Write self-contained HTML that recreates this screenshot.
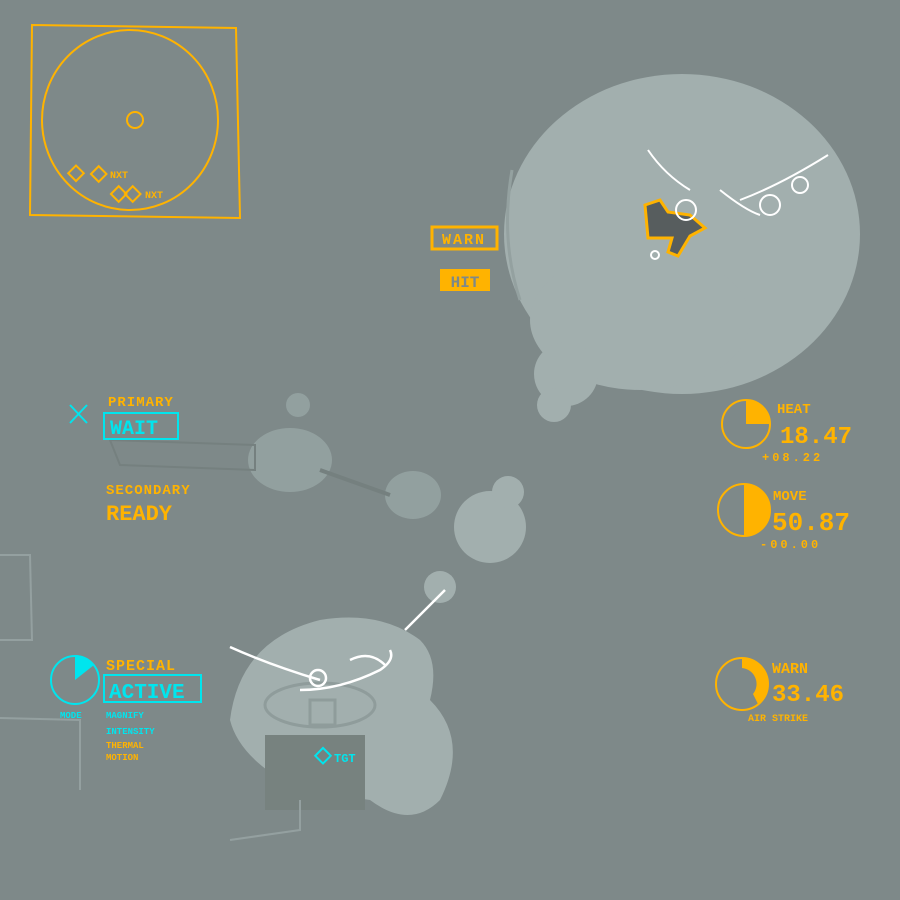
<!DOCTYPE html>
<html><head><meta charset="utf-8"><style>
html,body{margin:0;padding:0;background:#7e8989;}
svg{display:block}
text{font-family:"Liberation Mono",monospace;font-weight:bold}
</style></head><body>
<svg width="900" height="900" viewBox="0 0 900 900" xmlns="http://www.w3.org/2000/svg">
<rect width="900" height="900" fill="#7e8989"/>
<!-- big blob -->
<ellipse cx="682" cy="234" rx="178" ry="160" fill="#a2afae"/>
<ellipse cx="640" cy="320" rx="110" ry="70" fill="#a2afae"/>
<circle cx="566" cy="374" r="32" fill="#a2afae"/>
<circle cx="554" cy="405" r="17" fill="#a2afae"/>
<path d="M512 170 Q500 240 520 300" stroke="#94a1a0" stroke-width="3" fill="none"/>
<!-- creature -->
<g stroke="#ffb300" stroke-width="3" fill="#575d5e">
<path d="M645 205 L660 200 L668 212 L690 215 L705 228 L690 236 L678 256 L668 252 L672 238 L648 238 Z"/>
</g>
<circle cx="686" cy="210" r="10" fill="none" stroke="#fff" stroke-width="2"/>
<g stroke="#fff" stroke-width="2" fill="none">
<path d="M648 150 Q665 175 690 190"/><path d="M740 200 Q780 185 828 155"/>
<circle cx="770" cy="205" r="10"/><circle cx="800" cy="185" r="8"/><circle cx="655" cy="255" r="4"/>
<path d="M720 190 Q745 210 760 215"/>
</g>
<!-- warn / hit -->
<rect x="432" y="227" width="65" height="22" fill="none" stroke="#ffb300" stroke-width="3"/>
<text x="464" y="244" fill="#ffb300" font-size="15" text-anchor="middle" letter-spacing="2">WARN</text>
<rect x="440" y="269" width="50" height="22" fill="#ffb300"/>
<text x="465" y="287" fill="#7e8989" font-size="16" text-anchor="middle">HIT</text>
<!-- minimap -->
<path d="M32 25 L236 28 L240 218 L30 215 Z" fill="none" stroke="#ffb300" stroke-width="2"/>
<ellipse cx="130" cy="120" rx="88" ry="90" fill="none" stroke="#ffb300" stroke-width="2"/>
<circle cx="135" cy="120" r="8" fill="none" stroke="#ffb300" stroke-width="2"/>
<g fill="none" stroke="#ffb300" stroke-width="2">
<rect x="70" y="168" width="11" height="11" transform="rotate(45 76 174)"/>
<rect x="93" y="168" width="11" height="11" transform="rotate(45 98 174)"/>
<rect x="113" y="188" width="11" height="11" transform="rotate(45 118 194)"/>
<rect x="127" y="188" width="11" height="11" transform="rotate(45 132 194)"/>
</g>
<text x="110" y="178" fill="#ffb300" font-size="10">NXT</text>
<text x="145" y="198" fill="#ffb300" font-size="10">NXT</text>
<!-- middle blobs -->
<ellipse cx="290" cy="460" rx="42" ry="32" fill="#92a09f"/>
<circle cx="298" cy="405" r="12" fill="#92a09f"/>
<ellipse cx="413" cy="495" rx="28" ry="24" fill="#92a09f"/>
<circle cx="490" cy="527" r="36" fill="#a2afae"/>
<circle cx="508" cy="492" r="16" fill="#a2afae"/>
<circle cx="440" cy="587" r="16" fill="#a2afae"/>
<path d="M110 440 L255 445 L255 470 L120 465 Z" fill="none" stroke="#75807f" stroke-width="2"/>
<path d="M320 470 L390 495" stroke="#75807f" stroke-width="4"/>
<!-- lower structure -->
<path d="M230 720 Q240 640 320 620 Q380 610 420 640 Q440 660 430 700 Q470 740 440 800 Q410 830 370 800 L300 790 Q240 760 230 720 Z" fill="#a2afae"/>
<rect x="265" y="735" width="100" height="75" fill="#77827f"/>
<ellipse cx="320" cy="705" rx="55" ry="22" fill="none" stroke="#8f9c9b" stroke-width="3"/>
<rect x="310" y="700" width="25" height="25" fill="none" stroke="#8f9c9b" stroke-width="3"/>
<g stroke="#fff" stroke-width="2.5" fill="none">
<path d="M230 647 Q270 665 320 680"/><path d="M445 590 L405 630"/>
<circle cx="318" cy="678" r="8"/><path d="M300 690 Q340 690 380 670 Q395 660 390 650"/>
<path d="M350 660 Q370 650 385 665"/>
</g>
<rect x="318" y="750" width="11" height="11" fill="none" stroke="#00e5ee" stroke-width="2" transform="rotate(45 323 755)"/>
<text x="334" y="762" fill="#00e5ee" font-size="12">TGT</text>
<!-- left faint sketches -->
<g stroke="#94a0a0" stroke-width="2" fill="none">
<path d="M0 555 L30 555 L32 640 L0 640"/><path d="M0 718 L80 720 L80 790"/><path d="M230 840 L300 830 L300 800"/>
</g>
<!-- primary -->
<path d="M70 405 L87 423 M87 405 L70 423" stroke="#00e5ee" stroke-width="2"/>
<text x="108" y="406" fill="#ffb300" font-size="14" letter-spacing="1">PRIMARY</text>
<rect x="104" y="413" width="74" height="26" fill="none" stroke="#00e5ee" stroke-width="2"/>
<text x="110" y="434" fill="#00e5ee" font-size="20">WAIT</text>
<text x="106" y="494" fill="#ffb300" font-size="14" letter-spacing="1">SECONDARY</text>
<text x="106" y="520" fill="#ffb300" font-size="22">READY</text>
<!-- special -->
<circle cx="75" cy="680" r="24" fill="none" stroke="#00e5ee" stroke-width="2"/>
<path d="M75 680 L75 655 A24 24 0 0 1 94 665 Z" fill="#00e5ee"/>
<text x="106" y="670" fill="#ffb300" font-size="15" letter-spacing="1">SPECIAL</text>
<rect x="104" y="675" width="97" height="27" fill="none" stroke="#00e5ee" stroke-width="2"/>
<text x="109" y="698" fill="#00e5ee" font-size="21">ACTIVE</text>
<text x="60" y="718" fill="#00e5ee" font-size="9">MODE</text>
<text x="106" y="718" fill="#00e5ee" font-size="9">MAGNIFY</text>
<text x="106" y="734" fill="#00e5ee" font-size="9">INTENSITY</text>
<text x="106" y="748" fill="#ffb300" font-size="9">THERMAL</text>
<text x="106" y="760" fill="#ffb300" font-size="9">MOTION</text>
<!-- right gauges -->
<g fill="none" stroke="#ffb300" stroke-width="2">
<circle cx="746" cy="424" r="24"/><circle cx="744" cy="510" r="26"/><circle cx="742" cy="684" r="26"/>
</g>
<path d="M746 424 L746 400 A24 24 0 0 1 770 424 L760 424 L746 424 Z" fill="#ffb300"/>
<path d="M744 484 A26 26 0 0 1 744 536 Z" fill="#ffb300"/>
<path d="M742 658 A26 26 0 0 1 758 704 L753 694 A16 16 0 0 0 742 668 Z" fill="#ffb300"/>
<g fill="#ffb300">
<text x="777" y="413" font-size="14">HEAT</text>
<text x="780" y="443" font-size="24">18.47</text>
<text x="762" y="461" font-size="12" letter-spacing="3">+08.22</text>
<text x="773" y="500" font-size="14">MOVE</text>
<text x="772" y="530" font-size="26">50.87</text>
<text x="760" y="548" font-size="12" letter-spacing="3">-00.00</text>
<text x="772" y="673" font-size="15">WARN</text>
<text x="772" y="701" font-size="24">33.46</text>
<text x="748" y="721" font-size="10">AIR STRIKE</text>
</g>
</svg>
</body></html>
